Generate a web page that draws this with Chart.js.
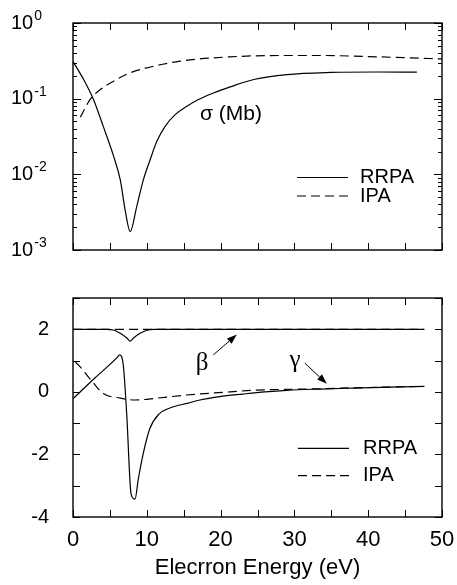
<!DOCTYPE html>
<html>
<head>
<meta charset="utf-8">
<script src="https://cdn.jsdelivr.net/npm/chart.js@4.4.0/dist/chart.umd.min.js"></script>
<style>
  html, body { margin: 0; padding: 0; background: #fff; }
  #wrap { position: relative; width: 457px; height: 585px; }
  #sigmaChart { position: absolute; left: 0; top: 0; }
  #asymChart { position: absolute; left: 0; top: 270px; }
</style>
</head>
<body>
<div id="wrap">
  <canvas id="sigmaChart" width="457" height="270"></canvas>
  <canvas id="asymChart" width="457" height="315"></canvas>
</div>
<script>
// ---- data ----
const seriesLabels = ['RRPA', 'IPA'];
const xTicks = [0, 10, 20, 30, 40, 50];
const logTicks = [0.001, 0.01, 0.1, 1];
const linTicks = [-4, -2, 0, 2];

// cross section (Mb), top panel
const sigmaRrpaE = [0, 1.5, 2.8, 4.1, 5.5, 6.4, 7.06, 7.75, 8.64, 9.54, 10.45, 11.36, 12.48, 13.84, 15.43, 17.0, 19.04, 21.3, 24.5, 29, 35, 41, 46.6];
const sigmaRrpa  = [0.31, 0.175, 0.096, 0.043, 0.0174, 0.0085, 0.0034, 0.00175, 0.00377, 0.0085, 0.0156, 0.0273, 0.0431, 0.0616, 0.0794, 0.0973, 0.119, 0.143, 0.179, 0.208, 0.222, 0.225, 0.224];
const sigmaIpaE  = [1, 2.3, 3.7, 5.5, 7.7, 10.9, 14.5, 17.2, 21.3, 24.5, 29, 33.5, 40, 45, 50];
const sigmaIpa   = [0.057, 0.097, 0.132, 0.17, 0.219, 0.268, 0.313, 0.336, 0.357, 0.368, 0.372, 0.372, 0.36, 0.348, 0.335];

// beta and gamma, bottom panel
const betaRrpaE  = [0, 4.5, 5.6, 6.4, 7.3, 7.75, 8.2, 9.1, 10, 11, 20, 30, 40, 47.6];
const betaRrpa   = [2, 2, 1.97, 1.87, 1.72, 1.62, 1.72, 1.87, 1.97, 2, 2, 2, 2, 2];
const betaIpaE   = [0, 10, 20, 30, 40, 47.6];
const betaIpa    = [2, 2, 2, 2, 2, 2];
const gammaRrpaE = [0, 3, 6.0, 6.3, 6.83, 7.28, 7.87, 8.4, 8.86, 9.54, 10.4, 11.6, 13.2, 15.6, 17.2, 19.9, 23, 26, 29, 33.5, 38, 43, 47.6];
const gammaRrpa  = [-0.22, 0.45, 1.1, 1.18, 0.82, -0.72, -3.26, -3.43, -2.77, -1.95, -1.18, -0.72, -0.51, -0.36, -0.26, -0.15, -0.07, 0.0, 0.05, 0.09, 0.12, 0.15, 0.175];
const gammaIpaE  = [0.3, 0.7, 2.5, 4.1, 6.4, 8.4, 11.4, 15.4, 21.3, 24.5, 33.5, 40, 47.6];
const gammaIpa   = [0.95, 0.87, 0.36, -0.05, -0.2, -0.26, -0.2, -0.1, 0.0, 0.05, 0.1, 0.14, 0.175];

const SANS = '"Liberation Sans", Arial, sans-serif';
const SERIF = '"Liberation Serif", "Times New Roman", serif';
const DASH = [9, 5];

const pts = (xs, ys) => xs.map((x, i) => ({ x: x, y: ys[i] }));

function line(label, xs, ys, dashed) {
    return {
        label: label,
        data: pts(xs, ys),
        borderColor: '#000',
        borderWidth: 1.2,
        borderDash: dashed ? DASH : [],
        pointRadius: 0,
        fill: false,
        cubicInterpolationMode: 'monotone'
    };
}

// frame with inward ticks on all four sides
const framePlugin = {
    id: 'frame',
    afterDatasetsDraw(chart, args, opts) {
        const { ctx, chartArea: a, scales: { x, y } } = chart;
        ctx.save();
        ctx.strokeStyle = '#000';
        ctx.lineWidth = 1.4;
        ctx.strokeRect(a.left, a.top, a.right - a.left, a.bottom - a.top);
        ctx.lineWidth = 1;
        ctx.beginPath();
        opts.xMarks.forEach(m => {
            const px = Math.round(x.getPixelForValue(m.v)) + 0.5;
            ctx.moveTo(px, a.bottom); ctx.lineTo(px, a.bottom - m.len);
            ctx.moveTo(px, a.top); ctx.lineTo(px, a.top + m.len);
        });
        opts.yMarks.forEach(m => {
            const py = Math.round(y.getPixelForValue(m.v)) + 0.5;
            ctx.moveTo(a.left, py); ctx.lineTo(a.left + m.len, py);
            ctx.moveTo(a.right, py); ctx.lineTo(a.right - m.len, py);
        });
        ctx.stroke();
        ctx.restore();
    }
};

// legend in the lower right of the plot area
const insetLegend = {
    id: 'insetLegend',
    afterDatasetsDraw(chart, args, opts) {
        const { ctx, chartArea: a } = chart;
        ctx.save();
        ctx.font = '20px ' + SANS;
        ctx.fillStyle = '#000';
        ctx.textBaseline = 'middle';
        chart.data.datasets.slice(0, 2).forEach((ds, i) => {
            const yy = a.top + opts.rows[i];
            ctx.strokeStyle = '#000';
            ctx.lineWidth = 1.2;
            ctx.setLineDash(ds.borderDash);
            ctx.beginPath();
            ctx.moveTo(a.right - opts.lineFrom, yy);
            ctx.lineTo(a.right - opts.lineTo, yy);
            ctx.stroke();
            ctx.setLineDash([]);
            ctx.fillText(ds.label, a.right - opts.textAt, yy);
        });
        ctx.restore();
    }
};

function arrow(ctx, x1, y1, x2, y2) {
    const ang = Math.atan2(y2 - y1, x2 - x1);
    const hl = 10, hw = 3.5;
    ctx.beginPath();
    ctx.moveTo(x1, y1);
    ctx.lineTo(x2 - hl * Math.cos(ang), y2 - hl * Math.sin(ang));
    ctx.stroke();
    ctx.beginPath();
    ctx.moveTo(x2, y2);
    ctx.lineTo(x2 - hl * Math.cos(ang) + hw * Math.sin(ang), y2 - hl * Math.sin(ang) - hw * Math.cos(ang));
    ctx.lineTo(x2 - hl * Math.cos(ang) - hw * Math.sin(ang), y2 - hl * Math.sin(ang) + hw * Math.cos(ang));
    ctx.closePath();
    ctx.fill();
}

// 10^n labels and the sigma label for the top panel
const sigmaText = {
    id: 'sigmaText',
    afterDraw(chart) {
        const { ctx, scales: { x, y } } = chart;
        ctx.save();
        ctx.fillStyle = '#000';
        ctx.textBaseline = 'middle';
        logTicks.forEach(v => {
            const py = y.getPixelForValue(v);
            const exp = Math.round(Math.log10(v));
            ctx.font = '20px ' + SANS;
            ctx.textAlign = 'left';
            ctx.fillText('10', 11, py);
            const w = ctx.measureText('10').width;
            ctx.font = '14px ' + SANS;
            ctx.fillText(String(exp), 11 + w + 1, py - 7);
        });
        ctx.font = '21px ' + SANS;
        ctx.textAlign = 'center';
        ctx.fillText('\u03c3 (Mb)', x.getPixelForValue(21.4), y.getPixelForValue(0.062));
        ctx.restore();
    }
};

// beta / gamma labels with arrows
const asymText = {
    id: 'asymText',
    afterDraw(chart) {
        const { ctx, scales: { x, y } } = chart;
        ctx.save();
        ctx.fillStyle = '#000';
        ctx.strokeStyle = '#000';
        ctx.lineWidth = 1;
        ctx.font = '25px ' + SERIF;
        ctx.textAlign = 'center';
        ctx.textBaseline = 'middle';
        ctx.fillText('\u03b2', x.getPixelForValue(17.5), y.getPixelForValue(0.9));
        ctx.fillText('\u03b3', x.getPixelForValue(30.1), y.getPixelForValue(1.0));
        arrow(ctx, x.getPixelForValue(19.0), y.getPixelForValue(1.18), x.getPixelForValue(22.2), y.getPixelForValue(1.83));
        arrow(ctx, x.getPixelForValue(31.4), y.getPixelForValue(0.92), x.getPixelForValue(34.4), y.getPixelForValue(0.26));
        ctx.restore();
    }
};

function marks(from, to, step, lenFn) {
    const out = [];
    for (let v = from; v <= to + 1e-9; v += step) out.push({ v: v, len: lenFn(v) });
    return out;
}

const logMarks = [];
logTicks.forEach((d, i) => {
    logMarks.push({ v: d, len: 8 });
    if (i < logTicks.length - 1) {
        for (let k = 2; k <= 9; k++) logMarks.push({ v: d * k, len: 4 });
    }
});

const baseOpts = {
    responsive: false,
    animation: false,
    events: [],
    plugins: { legend: { display: false }, tooltip: { enabled: false } }
};

// ---- top panel: cross section ----
new Chart(document.getElementById('sigmaChart'), {
    type: 'line',
    data: {
        datasets: [
            line(seriesLabels[0], sigmaRrpaE, sigmaRrpa, false),
            line(seriesLabels[1], sigmaIpaE, sigmaIpa, true)
        ]
    },
    options: {
        ...baseOpts,
        layout: { padding: { left: 73, top: 23, right: 15, bottom: 20 } },
        scales: {
            x: { type: 'linear', min: 0, max: 50, display: false },
            y: { type: 'logarithmic', min: 0.001, max: 1, display: false }
        },
        plugins: {
            ...baseOpts.plugins,
            frame: {
                xMarks: marks(0, 50, 5, () => 7),
                yMarks: logMarks
            },
            insetLegend: { rows: [154.5, 173], lineFrom: 145, lineTo: 94, textAt: 82 }
        }
    },
    plugins: [framePlugin, insetLegend, sigmaText]
});

// ---- bottom panel: beta and gamma ----
new Chart(document.getElementById('asymChart'), {
    type: 'line',
    data: {
        datasets: [
            line(seriesLabels[0], betaRrpaE, betaRrpa, false),
            line(seriesLabels[1], betaIpaE, betaIpa, true),
            line(seriesLabels[0], gammaRrpaE, gammaRrpa, false),
            line(seriesLabels[1], gammaIpaE, gammaIpa, true)
        ]
    },
    options: {
        ...baseOpts,
        layout: { padding: { left: 0, top: 19, right: 15, bottom: 0 } },
        scales: {
            x: {
                type: 'linear', min: 0, max: 50,
                grid: { display: false },
                border: { display: false },
                afterBuildTicks: s => { s.ticks = xTicks.map(v => ({ value: v })); },
                afterFit: s => { s.height = 68; },
                ticks: { color: '#000', font: { family: SANS, size: 22 }, padding: 2, maxRotation: 0 },
                title: {
                    display: true, text: 'Elecrron Energy (eV)', color: '#000',
                    font: { family: SANS, size: 22 }, padding: { top: 0, bottom: 4 }
                }
            },
            y: {
                type: 'linear', min: -4, max: 3,
                grid: { display: false },
                border: { display: false },
                afterBuildTicks: s => { s.ticks = linTicks.map(v => ({ value: v })); },
                afterFit: s => { s.width = 73; },
                ticks: { color: '#000', font: { family: SANS, size: 20 }, padding: 16 }
            }
        },
        plugins: {
            ...baseOpts.plugins,
            frame: {
                xMarks: marks(0, 50, 5, () => 7),
                yMarks: marks(-4, 3, 1, () => 7)
            },
            insetLegend: { rows: [150.3, 177.7], lineFrom: 144, lineTo: 93, textAt: 79 }
        }
    },
    plugins: [framePlugin, insetLegend, asymText]
});
</script>
</body>
</html>
